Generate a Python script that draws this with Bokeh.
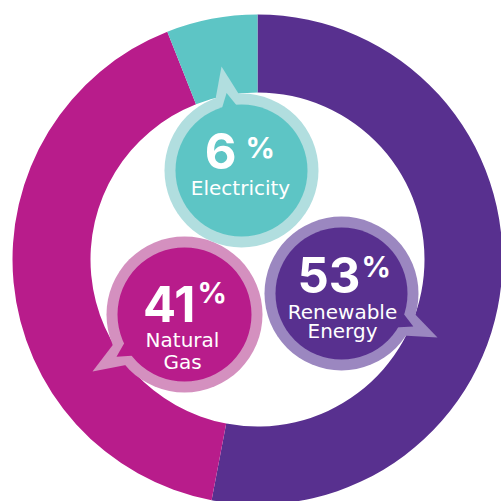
import math
from bokeh.plotting import figure
from bokeh.models import Range1d, ColumnDataSource
from bokeh.core.properties import value
from bokeh.embed import file_html
from bokeh.resources import INLINE

# ---- data ----
categories = ["Renewable Energy", "Natural Gas", "Electricity"]
label_lines = [["Renewable", "Energy"], ["Natural", "Gas"], ["Electricity"]]
shares = [53, 41, 6]
colors = ["#58308f", "#b81c8b", "#5dc5c5"]
light_colors = ["#9b87c0", "#d490bf", "#b1dedf"]

W = H = 501


def dx(X):
    return X


def dy(Y):
    return H - Y


p = figure(width=W, height=H, x_range=Range1d(0, W), y_range=Range1d(0, H),
           min_border=0, toolbar_location=None, output_backend="svg")
p.axis.visible = False
p.grid.visible = False
p.outline_line_color = None
p.background_fill_color = "white"
p.border_fill_color = "white"

# ---- donut ----
total = float(sum(shares))
cum = 0.0
starts, ends = [], []
for s in shares:
    a0 = cum / total
    cum += s
    a1 = cum / total
    starts.append(math.pi / 2 - a1 * 2 * math.pi)
    ends.append(math.pi / 2 - a0 * 2 * math.pi)

cx, cy = dx(257), dy(259)
src = ColumnDataSource(dict(x=[cx] * 3, y=[cy] * 3, start=starts, end=ends, color=colors,
                            cat=categories, share=shares))
p.annular_wedge(x="x", y="y", inner_radius=167, outer_radius=245,
                start_angle="start", end_angle="end", color="color",
                line_color=None, source=src)

# ---- bubbles (layout: image px centers, tail tips) ----
bubble_centers = [(341, 293), (184, 314), (241, 170)]
tail_tips = [(437, 337), (92, 371), (221, 66)]
r_out_list = [77, 78, 77]
r_in_list = [66, 67, 66]

for i in range(3):
    bx, by = dx(bubble_centers[i][0]), dy(bubble_centers[i][1])
    tx, ty = dx(tail_tips[i][0]), dy(tail_tips[i][1])
    ro, ri = r_out_list[i], r_in_list[i]
    ang = math.atan2(ty - by, tx - bx)
    d = math.radians(10)
    xs = [tx, bx + (ro - 3) * math.cos(ang + d), bx + (ro - 3) * math.cos(ang - d)]
    ys = [ty, by + (ro - 3) * math.sin(ang + d), by + (ro - 3) * math.sin(ang - d)]
    p.patch(xs, ys, color=light_colors[i], line_color=None)
    p.circle(x=[bx], y=[by], radius=ro, color=light_colors[i], line_color=None)
    d2 = math.radians(8)
    xs2 = [bx + (ri + 13) * math.cos(ang), bx + (ri - 3) * math.cos(ang + d2), bx + (ri - 3) * math.cos(ang - d2)]
    ys2 = [by + (ri + 13) * math.sin(ang), by + (ri - 3) * math.sin(ang + d2), by + (ri - 3) * math.sin(ang - d2)]
    p.patch(xs2, ys2, color=colors[i], line_color=None)
    p.circle(x=[bx], y=[by], radius=ri, color=colors[i], line_color=None)

# ---- texts ----
num_font = value("Inter")
lab_font = value("DejaVu Sans")
num_pos = [(360, 274), (195, 303), (236, 150)]
pct_pos = [(361, 266), (197, 292), (245, 147)]
lab_x = [342, 182, 240]
lab_base = [[311, 330], [339, 361], [187]]

for i in range(3):
    p.text(x=[dx(num_pos[i][0])], y=[dy(num_pos[i][1])], text=[str(shares[i])],
           text_font=num_font, text_font_style="bold", text_font_size="49px",
           text_color="white", text_align="right", text_baseline="alphabetic")
    p.text(x=[dx(pct_pos[i][0])], y=[dy(pct_pos[i][1])], text=["%"],
           text_font=num_font, text_font_style="bold", text_font_size="29px",
           text_color="white", text_align="left", text_baseline="alphabetic")
    for line, base in zip(label_lines[i], lab_base[i]):
        p.text(x=[dx(lab_x[i])], y=[dy(base)], text=[line],
               text_font=lab_font, text_font_size="20px",
               text_color="white", text_align="center", text_baseline="alphabetic")

open("out.html", "w").write(file_html(p, INLINE))
